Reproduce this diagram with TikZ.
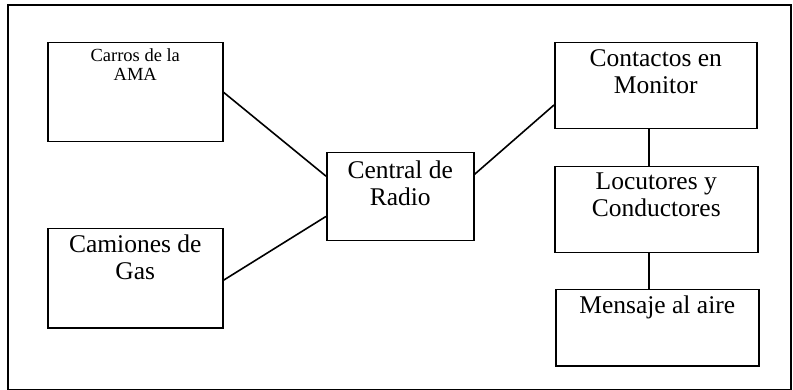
\documentclass[tikz,border=0pt]{standalone}
\usepackage{fontspec}
\setmainfont{Liberation Serif}
\usetikzlibrary{calc}
\tikzset{
  box/.style={draw, line width=1.5pt, rectangle, anchor=north west, inner sep=0pt},
  bigtxt/.style={anchor=north, inner sep=0pt, align=center, font=\fontsize{25.5}{27}\selectfont},
  smalltxt/.style={anchor=north, inner sep=0pt, align=center, font=\fontsize{18.5}{19}\selectfont},
  link/.style={line width=1.6pt}
}
\begin{document}
\begin{tikzpicture}[x=1pt,y=-1pt]
\useasboundingbox (0,0) rectangle (793,390);
\node[draw, line width=2pt, rectangle, anchor=north west, inner sep=0pt,
  minimum width=783pt, minimum height=385pt] (frame) at (7,4) {};
\node[box, minimum width=175pt, minimum height=99pt,
  label={[smalltxt, yshift=-6pt]north:Carros de la\\AMA}] (ama) at (47,42) {};
\node[box, minimum width=175pt, minimum height=99pt,
  label={[bigtxt, yshift=-7pt]north:Camiones de\\Gas}] (cam) at (47,228) {};
\node[box, minimum width=147pt, minimum height=88pt,
  label={[bigtxt, yshift=-9pt]north:Central de\\Radio}] (cen) at (326,152) {};
\node[box, minimum width=202pt, minimum height=86pt,
  label={[bigtxt, yshift=-7pt]north:Contactos en\\Monitor}] (con) at (554,42) {};
\node[box, minimum width=203pt, minimum height=86pt,
  label={[bigtxt, yshift=-7pt]north:Locutores y\\Conductores}] (loc) at (554,166) {};
\node[box, minimum width=203pt, minimum height=76pt,
  label={[bigtxt, yshift=-7pt]north:Mensaje al aire}] (men) at (555,289) {};
\draw[link] (ama.east) -- ($(cen.north west)!0.27!(cen.south west)$);
\draw[link] ([yshift=-2pt]cam.east) -- ($(cen.north west)!0.72!(cen.south west)$);
\draw[link] ($(cen.north east)!0.25!(cen.south east)$) -- ($(con.north west)!0.72!(con.south west)$);
\draw[link] ([xshift=-7pt]con.south) -- ([xshift=-7pt]con.south |- loc.north);
\draw[link] ([xshift=-7pt]loc.south) -- ([xshift=-7pt]loc.south |- men.north);
\end{tikzpicture}
\end{document}
